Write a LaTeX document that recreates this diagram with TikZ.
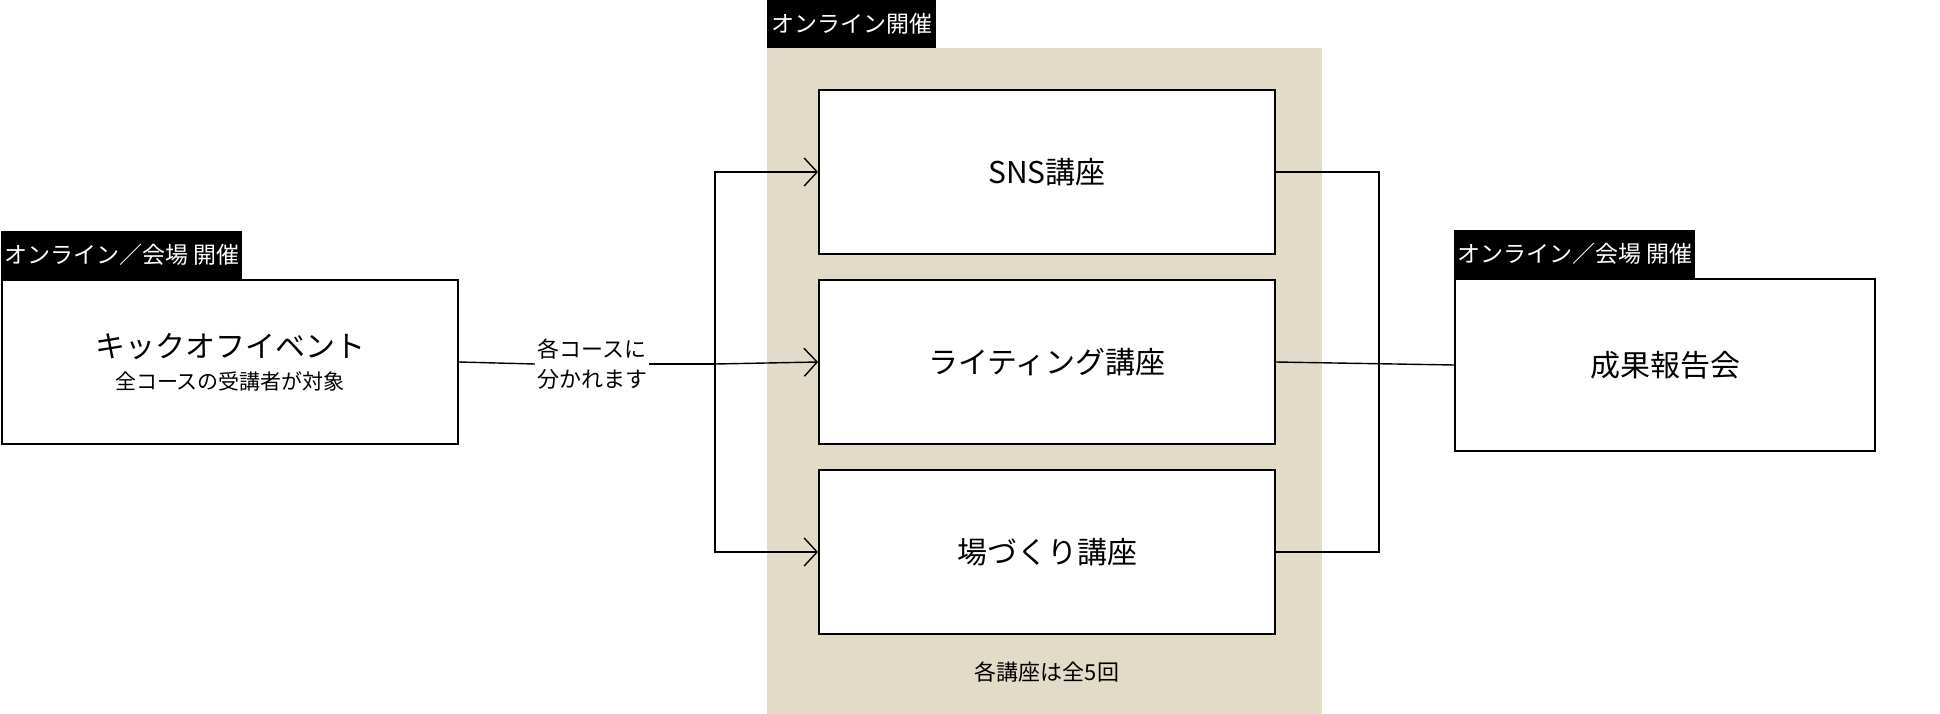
\documentclass[tikz,border=0pt]{standalone}
\usepackage{fontspec}
\setmainfont{Noto Sans CJK JP}
\usetikzlibrary{arrows.meta,positioning}
\definecolor{beige}{HTML}{E2DBC8}
\tikzset{
  stage/.style={draw,line width=1.8pt,fill=white,minimum width=456pt,minimum height=164pt,inner sep=0pt,font=\fontsize{30}{36}\selectfont,align=center},
  tag/.style={fill=black,text=white,anchor=south west,inner sep=4pt,minimum height=48pt,font=\fontsize{23}{28}\selectfont},
  link/.style={line width=1.4pt},
  go/.style={link,-{Straight Barb[length=13pt,width=28pt,line width=1.4pt]}}
}
\begin{document}
\begin{tikzpicture}[x=1pt,y=1pt]
  \useasboundingbox (0,0) rectangle (1940,-714);
  \fill[beige] (767,-48) rectangle (1322,-714);
  \node[tag] (tagon) at (767,-48) {オンライン開催};
  % courses
  \node[stage] (sns) at (1047,-172) {SNS講座};
  \node[stage] (write) at (1047,-362) {ライティング講座};
  \node[stage] (place) at (1047,-552) {場づくり講座};
  \node[font=\fontsize{22}{26}\selectfont] (times) at (1047,-672) {各講座は全5回};
  % kickoff and report
  \node[stage] (kick) at (230,-362) {キックオフイベント\\[-4pt]{\fontsize{21}{26}\selectfont 全コースの受講者が対象}};
  \node[tag,inner sep=3pt] (tagkick) at (kick.north west) {オンライン／会場 開催};
  \node[stage,minimum width=420pt,minimum height=172pt] (report) at (1665,-365) {成果報告会};
  \node[tag,inner sep=3pt] (tagreport) at (report.north west) {オンライン／会場 開催};
  % connectors
  \coordinate (split) at (715,-364);
  \coordinate (join) at (1379,-364);
  \node[fill=white,align=center,inner sep=2pt,font=\fontsize{22}{30}\selectfont] (branch) at (592,-364) {各コースに\\分かれます};
  \draw[link] (kick.east) -- (branch.west);
  \draw[link] (branch.east) -- (split);
  \draw[go] (split) -- (write.west);
  \draw[go] (split) |- (sns.west);
  \draw[go] (split) |- (place.west);
  \draw[link] (sns.east) -| (join);
  \draw[link] (place.east) -| (join);
  \draw[link] (write.east) -- (report.west);
\end{tikzpicture}
\end{document}
